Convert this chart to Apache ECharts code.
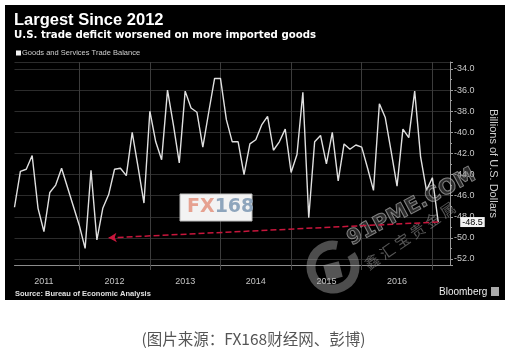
<!DOCTYPE html>
<html>
<head>
<meta charset="utf-8">
<script src="https://cdn.jsdelivr.net/npm/echarts@6/dist/echarts.min.js"></script>
<style>
  html, body { margin: 0; padding: 0; background: #fff; }
  #box { position: absolute; left: 5px; top: 5px; width: 500px; height: 295px; background: #000; }
  #chart { position: absolute; left: 0; top: 0; width: 507px; height: 351px; }
</style>
</head>
<body>
<div id="box"></div>
<div id="chart"></div>
<script>
// ---- data ----
var YEARS = ['2011', '2012', '2013', '2014', '2015', '2016', '2017'];
var SERIES_NAME = 'Goods and Services Trade Balance';

// monthly balance, Jan 2011 .. Jan 2017 (billions of USD)
var BALANCE = [
  -47.1, -43.7, -43.5, -42.2, -47.2, -49.4, -45.7, -45.0, -43.4, -45.2, -47.0, -48.8,
  -51.0, -43.6, -50.2, -47.2, -45.9, -43.5, -43.4, -44.1, -40.0, -43.3, -46.7, -38.0,
  -40.9, -42.6, -36.0, -39.3, -42.9, -36.1, -37.7, -38.1, -41.4, -38.1, -34.9, -34.9,
  -38.8, -40.9, -40.9, -44.0, -41.1, -40.7, -39.3, -38.5, -41.7, -40.9, -39.7, -43.8,
  -42.1, -36.2, -48.1, -40.9, -40.3, -43.0, -40.0, -44.6, -41.1, -41.6, -41.2, -41.4,
  -43.4, -45.5, -37.3, -38.6, -41.8, -45.1, -39.7, -40.5, -36.1, -42.3, -45.5, -44.3,
  -48.5
];

// red arrow: from latest print back to the 2012 level
var ARROW_FROM = ['2017-01', -48.5];
var ARROW_TO = ['2012-05', -50.0];

// month categories, two spare months on the right edge
var MONTHS = [];
YEARS.forEach(function(y) {
  for (var m = 1; m <= 12; m++) MONTHS.push(y + '-' + (m < 10 ? '0' + m : m));
});
MONTHS = MONTHS.slice(0, BALANCE.length + 2);

var FONT = 'Liberation Sans';

function isEven(v) {
  return Math.abs(v / 2 - Math.round(v / 2)) < 1e-6;
}

var chart = echarts.init(document.getElementById('chart'));

var option = {
  backgroundColor: 'transparent',
  animation: false,
  textStyle: { fontFamily: FONT },
  title: [
    { text: 'Largest Since 2012', left: 14, top: 12, padding: 0,
      textStyle: { color: '#fff', fontSize: 16.5, fontWeight: 'bold', fontFamily: FONT } },
    { text: 'U.S. trade deficit worsened on more imported goods', left: 14, top: 30, padding: 0,
      textStyle: { color: '#fff', fontSize: 10.2, fontWeight: 'bold', fontFamily: 'DejaVu Sans' } },
    { text: 'Source: Bureau of Economic Analysis', left: 15, top: 290, padding: 0,
      textStyle: { color: '#e0e0e0', fontSize: 7.5, fontWeight: 'bold', fontFamily: FONT } },
    { text: 'Bloomberg', left: 439, top: 287, padding: 0,
      textStyle: { color: '#eee', fontSize: 10, fontWeight: 'normal', fontFamily: FONT } },
    { text: '(图片来源：FX168财经网、彭博)', left: 'center', top: 331, padding: 0,
      textStyle: { color: '#555', fontSize: 15.5, fontWeight: 'normal', fontFamily: 'Noto Sans CJK SC' } }
  ],
  legend: {
    left: 16, top: 49, padding: 0, icon: 'rect', itemWidth: 5, itemHeight: 5,
    textStyle: { color: '#cfcfcf', fontSize: 7.5, padding: [0, 0, 0, -4] },
    data: [SERIES_NAME]
  },
  grid: { left: 14.5, right: 45, top: 62, bottom: 86 },
  xAxis: {
    type: 'category', data: MONTHS, boundaryGap: false,
    axisLine: { onZero: false, lineStyle: { color: '#8c8c8c' } },
    axisTick: {
      show: true, length: 5, inside: false,
      interval: function(i) { return i % 12 === 11; },
      lineStyle: { color: '#4a4a4a' }
    },
    axisLabel: {
      color: '#c4c4c4', fontSize: 9, margin: 12,
      interval: function(i) { return i % 12 === 5 && i < BALANCE.length; },
      formatter: function(v) { return v.slice(0, 4); }
    },
    splitLine: {
      show: true,
      interval: function(i) { return i % 12 === 11; },
      lineStyle: { color: '#3c3c3c' }
    }
  },
  yAxis: {
    type: 'value', position: 'right', min: -52.57, max: -33.34, splitNumber: 10,
    axisLine: { show: true, lineStyle: { color: '#9a9a9a' } },
    axisTick: { show: true, length: 3, lineStyle: { color: '#9a9a9a' } },
    minorTick: { show: true, splitNumber: 2, length: 2, lineStyle: { color: '#9a9a9a' } },
    axisLabel: {
      color: '#c8c8c8', fontSize: 9, margin: 4,
      formatter: function(v) { return isEven(v) ? v.toFixed(1) : ''; }
    },
    splitLine: { lineStyle: { color: '#2c2c2c' } },
    name: 'Billions of U.S. Dollars', nameLocation: 'middle', nameRotate: -90, nameGap: 38,
    nameTextStyle: { color: '#d0d0d0', fontSize: 11 }
  },
  graphic: [
    // FX168 logo stamp
    { type: 'rect', shape: { x: 180, y: 194, width: 72, height: 27 },
      style: { fill: '#f3f3f3', stroke: '#bbb', lineWidth: 1 }, z: 5 },
    { type: 'text', x: 187, y: 198, z: 6,
      style: { text: '{a|FX}{b|168}', rich: {
        a: { fill: '#e6a190', font: 'bold 19px "DejaVu Sans"' },
        b: { fill: '#8ea5bc', font: 'bold 19px "DejaVu Sans"' } } } },
    // 91PME watermark
    { type: 'text', x: 354, y: 250, rotation: 0.49, z: 5,
      style: { text: '91PME.COM', fill: 'rgba(120,120,120,0.35)', stroke: 'rgba(220,220,220,0.6)',
        lineWidth: 1, font: 'bold 21px "DejaVu Sans"', verticalAlign: 'bottom' } },
    { type: 'text', x: 370, y: 272, rotation: 0.6, z: 5,
      style: { text: '鑫 汇 宝 贵 金 属', fill: 'rgba(170,170,170,0.5)',
        font: '15px "Noto Sans CJK SC"', verticalAlign: 'bottom' } },
    { type: 'arc', shape: { cx: 333, cy: 267, r: 22, startAngle: -0.6, endAngle: 4.9 }, z: 5,
      style: { stroke: 'rgba(170,170,170,0.45)', lineWidth: 9, fill: null } },
    { type: 'rect', x: 333, y: 271, rotation: 0.25, originX: 0, originY: 0, z: 5,
      shape: { x: -8, y: -8, width: 16, height: 16 },
      style: { fill: 'rgba(170,170,170,0.5)' } },
    // Bloomberg mark
    { type: 'rect', shape: { x: 491, y: 287, width: 8, height: 9 },
      style: { fill: '#aaa' } }
  ],
  series: [{
    name: SERIES_NAME,
    type: 'line',
    data: BALANCE,
    showSymbol: false,
    symbol: 'none',
    lineStyle: { color: '#e0e0e0', width: 1.4 },
    itemStyle: { color: '#f2f2f2' },
    endLabel: {
      show: true, distance: 12, offset: [10, 0], color: '#000', backgroundColor: '#f2f2f2',
      fontSize: 9, padding: [1, 2, 0, 2],
      formatter: function(p) { return p.value.toFixed(1); }
    },
    markLine: {
      silent: true,
      symbol: ['none', 'arrow'],
      symbolSize: [7, 8],
      label: { show: false },
      lineStyle: { color: '#c8163c', type: 'dashed', width: 1.5 },
      data: [[{ coord: ARROW_FROM }, { coord: ARROW_TO }]]
    }
  }]
};

chart.setOption(option);
</script>
</body>
</html>
